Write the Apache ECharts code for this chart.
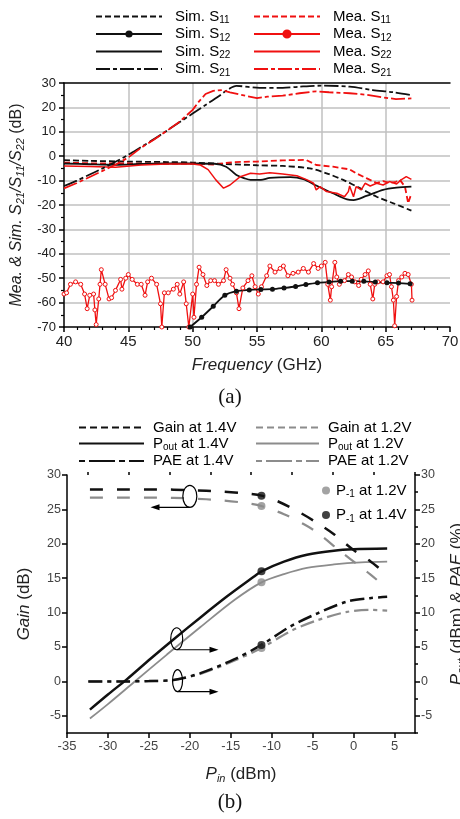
<!DOCTYPE html>
<html>
<head>
<meta charset="utf-8">
<title>S-parameters and power sweep</title>
<script src="https://cdn.jsdelivr.net/npm/echarts@6/dist/echarts.min.js"></script>
<style>
    html, body { margin: 0; padding: 0; background: #fff; }
    #main { width: 460px; height: 819px; }
</style>
</head>
<body>
<div id="main"></div>
<script>
    var FONT = 'Liberation Sans, Arial, sans-serif';
    var RED = '#f01010';
    var BLACK = '#111111';
    var GRAY = '#8c8c8c';

    // ---- (a) S-parameters, [GHz, dB] ----
    var simS11 = [[40,-1.6],[42,-1.9],[45,-2.2],[48,-2.4],[50,-2.6],[52.6,-3.2],[55,-3.7],[57,-4],[59.1,-5],[60.4,-7],[61.7,-9.7],[63,-13.1],[64.3,-16.6],[65.6,-19.3],[67,-22.3]];
    var meaS11 = [[40,-2.6],[42,-2.9],[45,-3],[48,-3.1],[50,-3],[51.6,-3.4],[53.2,-2.4],[55,-2.2],[57,-1.7],[58.8,-1.5],[59.6,-3.6],[60.9,-4.3],[62.2,-5.4],[62.7,-7],[63.5,-9],[64.3,-11],[64.8,-10.2],[65.3,-11],[65.8,-10.5],[66.1,-9.7],[66.5,-12.5],[66.75,-19.3],[67,-15.2]];
    var simS22 = [[40,-3],[42,-3.3],[44,-3.5],[46,-3.2],[48,-3],[50,-3],[51.7,-3.1],[52.6,-4.3],[53.4,-7.7],[54,-9],[54.5,-9.7],[55.3,-9.7],[56,-8.9],[57.6,-8.6],[58.6,-9.4],[59.6,-12],[60.9,-15.2],[62,-17.7],[62.5,-18],[63.5,-16.3],[64.8,-13.8],[65.85,-12.9],[67,-12.5]];
    var meaS22 = [[40,-4],[42,-4.2],[44,-4.5],[46,-3.6],[48,-3.2],[50,-3.2],[50.6,-3.6],[51.2,-5.5],[51.8,-9.7],[52.4,-13.1],[52.9,-11.8],[53.7,-8.4],[54.5,-7],[55.2,-7.3],[56,-6.8],[57,-7.3],[58.1,-8],[58.9,-9.7],[59.4,-11.1],[59.6,-13.8],[59.9,-12.5],[60.4,-14.5],[61.2,-15.2],[61.8,-16.6],[62.1,-14.5],[62.2,-12.2],[62.5,-16.6],[62.7,-12.5],[63.1,-13.8],[63.4,-11.1],[63.8,-12.2],[64.3,-11.1],[64.8,-11.8],[65.3,-10.4],[65.85,-11.4],[66.2,-9.7],[66.6,-8.4],[67,-9.5]];
    var simS21 = [[40,-12.2],[41,-10],[42,-7.5],[43,-5],[44,-2.3],[45,0.6],[46,3.8],[47,7],[48,10.5],[49,14],[50,17.5],[51,21],[52,24.5],[52.8,27.5],[53.4,28.8],[55.2,28],[57,28],[58.3,28.5],[60,28.9],[62.2,28.5],[64,27.1],[65.6,26.2],[67,25]];
    var meaS21 = [[40,-13.2],[41,-11],[42,-8.5],[43,-6],[44,-3.5],[45,-0.5],[46,3.5],[47,6.8],[48,10.4],[49,14.2],[50,19],[50.5,22.5],[51,25.5],[51.6,26.8],[52.3,27.1],[52.9,26.2],[53.7,25.2],[55,23.8],[55.8,24.4],[57,24.8],[58.3,25.8],[59.6,26.6],[60.6,26.2],[62.2,25.8],[63.5,25.2],[64.8,24.1],[65.8,23.4],[67,23.7]];
    var simS12 = [[49.8,-70],[50.7,-66],[51.6,-61.5],[52.5,-57],[53.4,-55.3],[54.4,-54.8],[55.3,-54.6],[56.2,-54.5],[57.1,-54],[58,-53.4],[58.8,-52.6],[59.7,-51.9],[60.6,-51.6],[61.5,-51.2],[62.4,-51.2],[63.3,-51.3],[64.2,-51.6],[65.1,-51.9],[66,-52],[66.9,-52.3]];
    var meaS12 = [[40,-56.5],[40.2,-56],[40.5,-52.5],[40.9,-51.5],[41.3,-52.5],[41.6,-56.5],[41.8,-62.5],[42,-57],[42.3,-56.5],[42.4,-63],[42.5,-69],[42.7,-58.5],[42.8,-52.5],[42.9,-46.5],[43.2,-52.5],[43.5,-58.5],[43.7,-58],[44,-55],[44.4,-50.5],[44.5,-54.5],[44.8,-50],[45,-48.5],[45.3,-50.5],[45.7,-52.5],[46,-52.5],[46.3,-57],[46.5,-51.5],[46.8,-50],[47.2,-52.5],[47.5,-60.5],[47.6,-70],[47.8,-56],[48.1,-56],[48.5,-54.5],[48.8,-52.5],[49,-56.5],[49.3,-51.5],[49.5,-60.5],[49.7,-70],[50,-56.5],[50.1,-66],[50.3,-52.5],[50.5,-45.5],[50.8,-48.5],[51.1,-53],[51.4,-51],[51.7,-51],[52,-52.5],[52.4,-51],[52.6,-46.5],[52.9,-50],[53.1,-52.5],[53.4,-56],[53.6,-62.5],[53.9,-54],[54.3,-51],[54.6,-49],[54.85,-53.5],[55.1,-56.5],[55.35,-53.5],[55.75,-49],[56,-45],[56.4,-47.5],[56.8,-46],[57.05,-45],[57.4,-49],[57.8,-48],[58.2,-47.5],[58.6,-46],[59,-47.5],[59.4,-44],[59.75,-46],[60,-45],[60.3,-43.5],[60.5,-52.5],[60.7,-59],[60.8,-53.5],[61.05,-43.5],[61.2,-49.5],[61.4,-52.5],[61.8,-51],[62.1,-48.5],[62.35,-49.5],[62.6,-51.5],[62.9,-53],[63.1,-50.5],[63.4,-48.5],[63.65,-47],[63.8,-52.5],[64,-58.5],[64.15,-52.5],[64.4,-51.5],[64.8,-51.5],[65.1,-49],[65.3,-48.5],[65.45,-53.5],[65.6,-59],[65.7,-69.5],[65.85,-57.5],[66,-51],[66.25,-49.5],[66.5,-48],[66.75,-48.5],[67,-52.5],[67.05,-59]];

    // ---- (b) power sweep, [Pin dBm, value] ----
    var gain14 = [[-32.2,27.9],[-28,27.9],[-24,27.9],[-20,27.8],[-16,27.6],[-13,27.3],[-11.25,27],[-9.3,26.2],[-6.5,24.5],[-4.4,23],[-2.4,21.4],[0,19.1],[2,17.5],[3.6,16]];
    var gain12 = [[-32.2,26.7],[-28,26.7],[-24,26.7],[-20,26.6],[-16,26.3],[-13,25.9],[-11.25,25.5],[-8.5,24.3],[-6,22.8],[-4.4,21.6],[-1.6,18.9],[0.9,16.6],[2,15.6],[3.6,14]];
    var pout14 = [[-32.2,-4.1],[-30,-1.9],[-27.7,0.3],[-24.8,3.3],[-22,6.1],[-18.7,9.3],[-15.4,12.4],[-12.2,15.2],[-11.25,16],[-8.5,17.4],[-5.7,18.4],[-2.4,19],[0,19.2],[4.1,19.3]];
    var pout12 = [[-32.2,-5.4],[-30,-3.3],[-26.9,-0.2],[-22.8,3.9],[-18.7,7.9],[-14.6,11.8],[-11.25,14.4],[-8.5,15.6],[-5.7,16.5],[-2.4,17],[0.9,17.3],[4.1,17.4]];
    var pae14 = [[-32.4,0],[-28,0],[-25,0.05],[-22,0.2],[-18.7,1.2],[-14.6,3.2],[-11.25,5.3],[-7.7,8],[-4.4,9.9],[-0.8,11.6],[2,12.1],[4.1,12.3]];
    var pae12 = [[-32.4,0],[-28,0],[-25,0.05],[-22,0.2],[-18.7,1.1],[-14.6,3],[-11.25,4.85],[-7.7,7.3],[-4.4,8.9],[-0.8,10.1],[2,10.4],[4.1,10.3]];
    var p1dB12 = [[-11.25,25.5],[-11.25,14.4],[-11.25,4.85]];
    var p1dB14 = [[-11.25,27],[-11.25,16],[-11.25,5.3]];

    var bMajorTicks = [-5, 0, 5, 10, 15, 20, 25, 30];
    var bMinorTicks = [-7.5, -2.5, 2.5, 7.5, 12.5, 17.5, 22.5, 27.5];
    var xMajorTicks = [-35, -30, -25, -20, -15, -10, -5, 0, 5];
    var xMinorTicks = [-32.5, -27.5, -22.5, -17.5, -12.5, -7.5, -2.5, 2.5, 7.5];

    var DASH = [6, 3];
    var DASHDOT = [14, 3, 4, 3];
    var GAINDASH = [13, 14];
    var PAEDASH = [14, 5, 4, 5];

    function richSet(padLeft) {
        return {
            n: {fontSize: 15, fontFamily: FONT, color: '#000', lineHeight: 18},
            s: {fontSize: 10, fontFamily: FONT, color: '#000', lineHeight: 10, verticalAlign: 'bottom'},
            p: {fontSize: 15, fontFamily: FONT, color: '#000', lineHeight: 18, padding: [0, 0, 0, padLeft]}
        };
    }

    // 'Sim. S11' -> Sim. S + subscript 11 ; 'Pout at 1.4V' -> P + subscript out
    function subName(name) {
        var m = name.match(/^(.*?S)(\d\d)$/);
        if (m) return '{p|' + m[1] + '}{s|' + m[2] + '}';
        m = name.match(/^P(out|-1)(.*)$/);
        if (m) return '{p|P}{s|' + m[1] + '}{n|' + m[2] + '}';
        return '{p|' + name + '}';
    }

    function line(name, data, color, width, type, gridX, gridY, extra) {
        var s = {
            name: name, type: 'line', data: data,
            xAxisIndex: gridX, yAxisIndex: gridY,
            symbol: 'none', showSymbol: false,
            lineStyle: {color: color, width: width, type: type},
            itemStyle: {color: color},
            animation: false
        };
        for (var k in extra) s[k] = extra[k];
        return s;
    }

    // legend column; items without markers get an invisible symbol
    function legendCol(items, left, top, width, pad, h) {
        return {
            orient: 'vertical', left: left, top: top,
            itemWidth: width, itemHeight: h, itemGap: 1,
            data: items, formatter: subName,
            itemStyle: {opacity: 0},
            textStyle: {rich: richSet(pad)}, selectedMode: false
        };
    }

    var chart = echarts.init(document.getElementById('main'));

    var blackLine = {show: true, onZero: false, lineStyle: {color: '#000', width: 1.5}};
    var tickStyle = {color: '#000', width: 1.5};
    function nameRich(size) {
        return {
            i: {fontSize: size, fontStyle: 'italic', fontFamily: FONT, color: '#222', lineHeight: 20},
            si: {fontSize: 11, fontStyle: 'italic', fontFamily: FONT, color: '#222', lineHeight: 10, verticalAlign: 'bottom'},
            n: {fontSize: size, fontFamily: FONT, color: '#222', lineHeight: 20}
        };
    }

    chart.setOption({
        backgroundColor: '#fff',
        animation: false,
        legend: [
            legendCol(['Sim. S11', {name: 'Sim. S12', itemStyle: {opacity: 1, color: BLACK}}, 'Sim. S22', 'Sim. S21'], 90, 4, 66, 8, 9),
            legendCol(['Mea. S11', {name: 'Mea. S12', itemStyle: {opacity: 1, color: RED, borderColor: RED}}, 'Mea. S22', 'Mea. S21'], 248, 4, 66, 8, 9),
            legendCol([{name: 'Gain at 1.4V', lineStyle: {type: [7, 4]}}, 'Pout at 1.4V',
                {name: 'PAE at 1.4V', lineStyle: {type: [6, 4, 26, 4]}}], 73, 415, 65, 4, 14),
            legendCol([{name: 'Gain at 1.2V', lineStyle: {type: [7, 4]}}, 'Pout at 1.2V',
                {name: 'PAE at 1.2V', lineStyle: {type: [6, 4, 26, 4]}}], 250, 415, 63, 4, 14),
            {
                orient: 'vertical', left: 317, top: 478, icon: 'circle',
                itemWidth: 8, itemHeight: 8, itemGap: 8, selectedMode: false,
                data: ['P-1 at 1.2V', 'P-1 at 1.4V'], formatter: subName,
                textStyle: {rich: richSet(1)}
            }
        ],
        grid: [
            {left: 64, top: 83, width: 386, height: 244, outerBoundsMode: 'none', containLabel: false},
            {left: 67, top: 475, width: 348, height: 258, outerBoundsMode: 'none', containLabel: false}
        ],
        xAxis: [
            {
                gridIndex: 0, type: 'value', min: 40, max: 70, interval: 5,
                name: '{i|Frequency}{n| (GHz)}', nameLocation: 'middle', nameGap: 28,
                nameTextStyle: {rich: nameRich(17)},
                axisLine: blackLine,
                axisTick: {show: true, length: 5, lineStyle: tickStyle},
                minorTick: {show: true, splitNumber: 5, length: 3, lineStyle: {color: '#000', width: 1.2}},
                axisLabel: {fontSize: 15, color: '#222', fontFamily: FONT, margin: 7},
                splitLine: {show: true, showMinLine: false, showMaxLine: false, lineStyle: {color: '#c0c0c0', width: 1.5}}
            },
            {
                gridIndex: 0, type: 'value', min: 40, max: 70, position: 'top',
                axisLine: blackLine,
                axisTick: {show: false}, axisLabel: {show: false}, splitLine: {show: false}
            },
            {
                gridIndex: 1, type: 'value', min: -35, max: 7.5,
                name: '{i|P}{si|in}{n| (dBm)}', nameLocation: 'middle', nameGap: 31,
                nameTextStyle: {rich: nameRich(17)},
                axisLine: blackLine,
                axisTick: {show: true, length: 5, customValues: xMajorTicks, lineStyle: tickStyle},
                axisLabel: {customValues: xMajorTicks, fontSize: 13, color: '#444', fontFamily: FONT, margin: 7},
                splitLine: {show: false}
            },
            {
                gridIndex: 1, type: 'value', min: -35, max: 7.5,
                axisLine: {show: false, onZero: false},
                axisTick: {show: true, length: 3, customValues: xMinorTicks, lineStyle: tickStyle},
                axisLabel: {show: false}, splitLine: {show: false}
            }
        ],
        yAxis: [
            {
                gridIndex: 0, type: 'value', min: -70, max: 30, interval: 10,
                name: '{i|Mea. & Sim. S}{si|21}{i|/S}{si|11}{i|/S}{si|22}{n| (dB)}',
                nameLocation: 'middle', nameGap: 36, nameRotate: 90,
                nameTextStyle: {rich: nameRich(16)},
                axisLine: blackLine,
                axisTick: {show: true, length: 5, lineStyle: tickStyle},
                minorTick: {show: true, splitNumber: 2, length: 3, lineStyle: {color: '#000', width: 1.2}},
                axisLabel: {color: '#222', fontSize: 13, fontFamily: FONT},
                splitLine: {show: true, showMinLine: false, showMaxLine: false, lineStyle: {color: '#c0c0c0', width: 1.5}}
            },
            {
                gridIndex: 1, type: 'value', min: -7.5, max: 30,
                name: '{i|Gain}{n| (dB)}', nameLocation: 'middle', nameGap: 33, nameRotate: 90,
                nameTextStyle: {rich: nameRich(17)},
                axisLine: blackLine,
                axisTick: {show: true, length: 5, customValues: bMajorTicks, lineStyle: tickStyle},
                axisLabel: {customValues: bMajorTicks, color: '#444', fontSize: 12.5, fontFamily: FONT, margin: 6},
                splitLine: {show: false}
            },
            {
                gridIndex: 1, type: 'value', min: -7.5, max: 30, position: 'right',
                name: '{i|P}{si|out}{n| (dBm) & }{i|PAE}{n| (%)}',
                nameLocation: 'middle', nameGap: 32, nameRotate: 90,
                nameTextStyle: {rich: nameRich(17)},
                axisLine: blackLine,
                axisTick: {show: true, length: 5, customValues: bMajorTicks, lineStyle: tickStyle},
                axisLabel: {customValues: bMajorTicks, color: '#444', fontSize: 12.5, fontFamily: FONT, margin: 6},
                splitLine: {show: false}
            },
            {
                gridIndex: 1, type: 'value', min: -7.5, max: 30,
                axisLine: {show: false, onZero: false},
                axisTick: {show: true, length: 3, customValues: bMinorTicks, lineStyle: tickStyle},
                axisLabel: {show: false}, splitLine: {show: false}
            },
            {
                gridIndex: 1, type: 'value', min: -7.5, max: 30, position: 'right',
                axisLine: {show: false, onZero: false},
                axisTick: {show: true, length: 3, customValues: bMinorTicks, lineStyle: tickStyle},
                axisLabel: {show: false}, splitLine: {show: false}
            }
        ],
        series: [
            line('Sim. S11', simS11, BLACK, 1.8, DASH, 0, 0, {smooth: 0.3}),
            line('Mea. S11', meaS11, RED, 1.8, DASH, 0, 0, {}),
            line('Sim. S22', simS22, BLACK, 1.8, 'solid', 0, 0, {smooth: 0.3}),
            line('Mea. S22', meaS22, RED, 1.5, 'solid', 0, 0, {}),
            line('Sim. S21', simS21, BLACK, 1.8, DASHDOT, 0, 0, {smooth: 0.3}),
            line('Mea. S21', meaS21, RED, 1.8, DASHDOT, 0, 0, {}),
            line('Mea. S12', meaS12, RED, 1.3, 'solid', 0, 0, {symbol: 'circle', symbolSize: 4, showSymbol: true,
                itemStyle: {color: '#fff', borderColor: RED, borderWidth: 1}}),
            line('Sim. S12', simS12, BLACK, 1.8, 'solid', 0, 0, {symbol: 'circle', symbolSize: 5, showSymbol: true, smooth: 0.3}),

            line('Gain at 1.2V', gain12, GRAY, 2.2, GAINDASH, 2, 1, {smooth: 0.3}),
            line('Pout at 1.2V', pout12, GRAY, 1.8, 'solid', 2, 1, {smooth: 0.3}),
            line('PAE at 1.2V', pae12, GRAY, 2.2, PAEDASH, 2, 1, {smooth: 0.3}),
            line('Gain at 1.4V', gain14, BLACK, 2.5, GAINDASH, 2, 1, {smooth: 0.3}),
            line('Pout at 1.4V', pout14, BLACK, 2.5, 'solid', 2, 1, {smooth: 0.3}),
            line('PAE at 1.4V', pae14, BLACK, 2.5, PAEDASH, 2, 1, {smooth: 0.3}),
            {name: 'P-1 at 1.2V', type: 'scatter', xAxisIndex: 2, yAxisIndex: 1, data: p1dB12,
                symbolSize: 8, itemStyle: {color: GRAY}, z: 5},
            {name: 'P-1 at 1.4V', type: 'scatter', xAxisIndex: 2, yAxisIndex: 1, data: p1dB14,
                symbolSize: 8, itemStyle: {color: BLACK}, z: 5}
        ]
    });

    // annotation ellipses with arrows in (b), placed from data coordinates
    function px(p) { return chart.convertToPixel({gridIndex: 1}, p); }
    function ring(c, rx, ry) {
        return {type: 'ellipse', shape: {cx: c[0], cy: c[1], rx: rx, ry: ry},
            style: {fill: null, stroke: '#000', lineWidth: 1.2}, z: 100};
    }
    function arrow(a, b) {
        var dir = b[0] > a[0] ? 1 : -1;
        return [
            {type: 'line', shape: {x1: a[0], y1: a[1], x2: b[0] - dir * 6, y2: b[1]},
                style: {stroke: '#000', lineWidth: 1.2}, z: 100},
            {type: 'polygon', shape: {points: [[b[0], b[1]], [b[0] - dir * 9, b[1] - 3], [b[0] - dir * 9, b[1] + 3]]},
                style: {fill: '#000'}, z: 100}
        ];
    }
    var e1 = px([-20, 26.9]), e2 = px([-21.6, 6.2]), e3 = px([-21.5, 0.1]);
    var graphics = [
        ring(e1, 7, 11), ring(e2, 6, 11), ring(e3, 5, 11)
    ].concat(
        arrow([e1[0], e1[1] + 11], px([-24.8, 26.9 - 11 / 6.88])),
        arrow([e2[0], e2[1] + 11], px([-16.5, 6.2 - 11 / 6.88])),
        arrow([e3[0], e3[1] + 11], px([-16.5, 0.1 - 11 / 6.88]))
    );
    graphics.push(
        {type: 'text', left: 'center', top: 387, style: {text: '(a)', font: '21px "Liberation Serif", serif', fill: '#111'}},
        {type: 'text', left: 'center', top: 792, style: {text: '(b)', font: '21px "Liberation Serif", serif', fill: '#111'}}
    );
    chart.setOption({graphic: graphics});
</script>
</body>
</html>
